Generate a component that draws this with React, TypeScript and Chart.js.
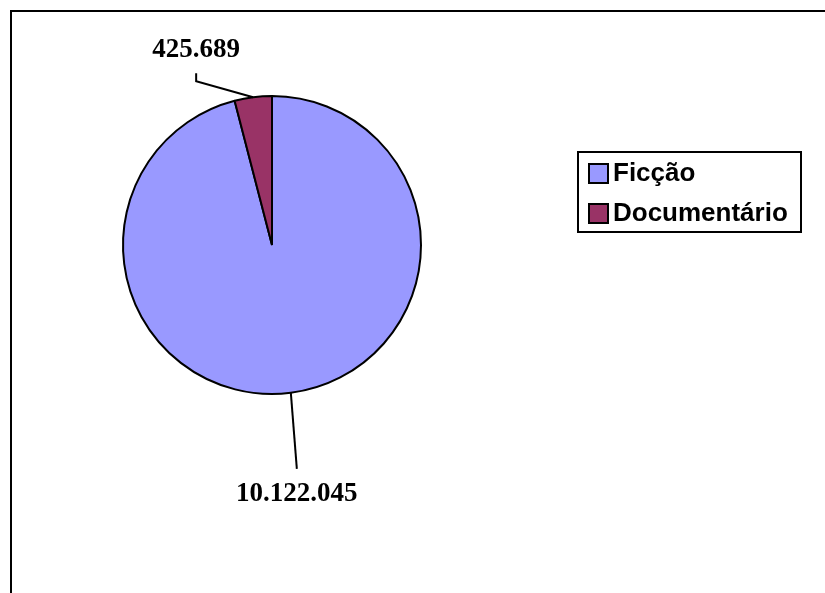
import React, { useEffect, useRef } from 'react';
import { Chart, registerables } from 'chart.js';

Chart.register(...registerables);

const categories = ['Ficção', 'Documentário'];
const values = [10122045, 425689];
const valueLabels = ['10.122.045', '425.689'];
const colors = ['#9999FF', '#993366'];

const W = 825;
const H = 593;

const overlayPlugin = {
  id: 'overlay',
  afterDraw(chart: any) {
    const ctx = chart.ctx as CanvasRenderingContext2D;
    const meta = chart.getDatasetMeta(0);
    ctx.save();
    // frame (top and left edges visible)
    ctx.strokeStyle = '#000';
    ctx.lineWidth = 2;
    ctx.beginPath();
    ctx.moveTo(W, 11);
    ctx.lineTo(11, 11);
    ctx.lineTo(11, H);
    ctx.stroke();

    // data labels with leader lines
    const offsets = [
      { tx: 6, ty: 101, path: [[6, 76]] },
      { tx: -57, ty: -47, path: [[-57, -16], [-57, -24]] },
    ];
    meta.data.forEach((arc: any, i: number) => {
      const mid = (arc.startAngle + arc.endAngle) / 2;
      const px = arc.x + Math.cos(mid) * arc.outerRadius;
      const py = arc.y + Math.sin(mid) * arc.outerRadius;
      const o = offsets[i];
      ctx.strokeStyle = '#000';
      ctx.lineWidth = 2;
      ctx.beginPath();
      ctx.moveTo(px, py);
      o.path.forEach((p) => ctx.lineTo(px + p[0], py + p[1]));
      ctx.stroke();
      ctx.fillStyle = '#000';
      ctx.font = 'bold 27px "Liberation Serif", "Times New Roman", serif';
      ctx.textAlign = 'center';
      ctx.textBaseline = 'middle';
      ctx.fillText(valueLabels[i], px + o.tx, py + o.ty);
    });

    // legend
    const lx = 578, ly = 152, lw = 223, lh = 80;
    ctx.fillStyle = '#fff';
    ctx.fillRect(lx, ly, lw, lh);
    ctx.strokeStyle = '#000';
    ctx.lineWidth = 2;
    ctx.strokeRect(lx, ly, lw, lh);
    categories.forEach((c, i) => {
      const cy = 173 + i * 40;
      ctx.fillStyle = colors[i];
      ctx.fillRect(589, cy - 9, 19, 19);
      ctx.strokeStyle = '#000';
      ctx.lineWidth = 2;
      ctx.strokeRect(589, cy - 9, 19, 19);
      ctx.fillStyle = '#000';
      ctx.font = 'bold 26px "Liberation Sans", Arial, sans-serif';
      ctx.textAlign = 'left';
      ctx.textBaseline = 'middle';
      ctx.fillText(c, 613, cy + 1);
    });
    ctx.restore();
  },
};

export default function App() {
  const ref = useRef<HTMLCanvasElement | null>(null);
  useEffect(() => {
    if (!ref.current) return;
    const chart = new Chart(ref.current, {
      type: 'pie',
      data: {
        labels: categories,
        datasets: [
          {
            data: values,
            backgroundColor: colors,
            borderColor: '#000',
            borderWidth: 2,
          },
        ],
      },
      options: {
        responsive: false,
        animation: false,
        layout: { padding: { left: 122, top: 95, right: W - 422, bottom: H - 395 } },
        plugins: {
          legend: { display: false },
          tooltip: { enabled: false },
        },
      },
      plugins: [overlayPlugin],
    });
    return () => chart.destroy();
  }, []);
  return (
    <div style={{ position: 'fixed', left: 0, top: 0, width: W, height: H, background: '#fff' }}>
      <canvas ref={ref} width={W} height={H} />
    </div>
  );
}
